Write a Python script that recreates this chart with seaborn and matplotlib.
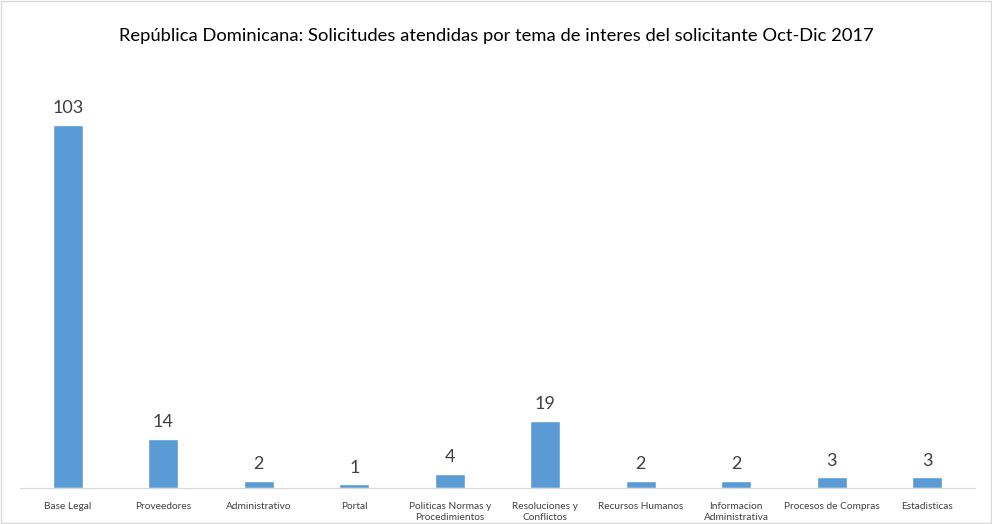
import pandas as pd
import seaborn as sns
import matplotlib.pyplot as plt

categorias = ["Base Legal", "Proveedores", "Administrativo", "Portal",
              "Politicas Normas y\nProcedimientos", "Resoluciones y\nConflictos",
              "Recursos Humanos", "Informacion\nAdministrativa",
              "Procesos de Compras", "Estadisticas"]
solicitudes = [103, 14, 2, 1, 4, 19, 2, 2, 3, 3]

data = pd.DataFrame({"tema": categorias, "solicitudes": solicitudes})

sns.set_style("white")
plt.rcParams['font.family'] = ['Lato', 'DejaVu Sans']

fig = plt.figure(figsize=(9.92, 5.24), dpi=100)
ax = fig.add_axes([20 / 992, 36 / 524, 955 / 992, 418 / 524])

sns.barplot(data=data, x="tema", y="solicitudes", color="#5B9BD5",
            width=0.31, saturation=1, ax=ax)

for i, v in enumerate(solicitudes):
    ax.text(i, v + 2.5, str(v), ha="center", va="bottom", fontsize=13, color="#404040")

ax.set_ylim(0, 118.7)
ax.set_xlim(-0.5, len(categorias) - 0.5)
ax.set_yticks([])
ax.set_xlabel("")
ax.set_ylabel("")
ax.tick_params(axis="x", length=0, labelsize=7.3, colors="#404040", pad=10)
for lbl in ax.get_xticklabels():
    lbl.set_linespacing(1.3)
for s in ["top", "right", "left"]:
    ax.spines[s].set_visible(False)
ax.spines["bottom"].set_color("#D9D9D9")

fig.text(0.5, 1 - 36 / 524, "República Dominicana: Solicitudes atendidas por tema de interes del solicitante Oct-Dic 2017",
         ha="center", va="center", fontsize=13.2, color="#000000")

fig.patches.append(plt.Rectangle((0.001, 0.001), 0.998, 0.998, transform=fig.transFigure,
                                 fill=False, edgecolor="#D9D9D9", linewidth=1))

fig.savefig("out.png", dpi=100)
